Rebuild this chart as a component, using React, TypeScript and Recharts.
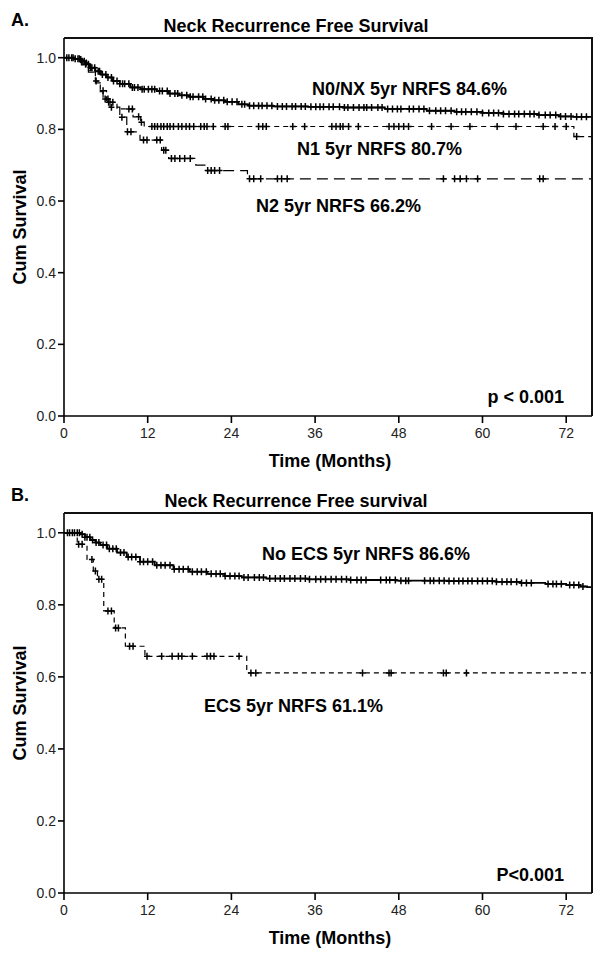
import { ComposedChart, Line, Scatter, XAxis, YAxis } from "recharts"

const FONT = "Arial, 'Liberation Sans', sans-serif"

const MONTH_TICKS = [0, 12, 24, 36, 48, 60, 72]
const SURV_TICKS = [0, 0.2, 0.4, 0.6, 0.8, 1.0]
const X_MAX = 75.7
const Y_MAX = 1.055

// ---- Panel A: N stage ----
const n0Times = [0, 1.5, 2.3, 3.0, 3.7, 4.5, 5.3, 6.1, 7.0, 8.0, 9.5, 11.0, 13.3, 15.0, 16.5, 18.0, 20.0, 21.5, 23.0, 25.0, 26.5, 30.0, 35.0, 40.0, 46.0, 52.0, 56.0, 60.0, 63.0, 68.0, 71.0, 73.0, 75.7]
const n0Surv = [1.0, 0.997, 0.99, 0.982, 0.972, 0.962, 0.953, 0.945, 0.935, 0.927, 0.917, 0.912, 0.907, 0.9, 0.895, 0.891, 0.885, 0.881, 0.877, 0.87, 0.866, 0.864, 0.863, 0.861, 0.857, 0.852, 0.849, 0.846, 0.843, 0.84, 0.836, 0.835, 0.835]
const n0Censor = [0.4, 0.7, 1.1, 1.3, 1.6, 2.0, 2.2, 2.6, 2.9, 3.1, 3.5, 3.8, 4.0, 4.4, 4.9, 5.1, 5.5, 6.0, 6.3, 6.8, 7.1, 7.6, 8.0, 8.4, 8.7, 9.3, 9.8, 10.1, 10.6, 11.2, 11.5, 12.1, 12.6, 13.0, 13.7, 14.1, 14.8, 15.2, 15.9, 16.3, 16.9, 17.6, 18.1, 18.5, 19.3, 19.9, 20.3, 21.1, 21.6, 22.2, 22.9, 23.4, 24.1, 24.8, 25.5, 25.9, 26.6, 27.2, 27.9, 28.4, 29.1, 29.8, 30.6, 31.3, 31.9, 32.7, 33.2, 34.0, 34.6, 35.4, 36.1, 36.7, 37.2, 38.0, 38.6, 39.5, 40.2, 40.7, 41.5, 42.3, 43.0, 43.4, 44.1, 45.0, 45.6, 46.4, 47.1, 47.8, 48.3, 49.5, 50.1, 50.9, 51.6, 52.4, 53.3, 54.0, 54.7, 55.5, 56.3, 57.0, 57.6, 58.4, 59.2, 60.0, 60.9, 61.6, 62.3, 63.0, 63.8, 64.6, 65.2, 66.0, 66.8, 67.4, 68.1, 69.0, 69.7, 70.5, 71.2, 71.9, 72.7, 73.5, 74.2, 74.9]

const n1Times = [0, 1.5, 2.5, 3.5, 4.5, 5.2, 6.1, 7.6, 9.9, 11.0, 11.5, 73.1, 75.7]
const n1Surv = [1.0, 0.995, 0.985, 0.965, 0.935, 0.908, 0.876, 0.857, 0.835, 0.82, 0.808, 0.78, 0.78]
const n1Censor = [2.4, 3.2, 4.6, 5.6, 6.4, 7.0, 9.3, 9.8, 10.7, 11.1, 12.6, 13.0, 13.4, 13.9, 14.3, 14.8, 15.2, 15.7, 16.4, 16.9, 17.5, 18.0, 18.6, 19.6, 20.1, 20.5, 21.4, 23.1, 23.5, 27.9, 28.5, 29.0, 32.8, 34.5, 38.4, 39.0, 39.6, 40.0, 40.8, 42.2, 46.6, 47.3, 48.0, 48.7, 49.4, 52.7, 55.5, 58.2, 62.1, 64.8, 68.7, 70.4, 72.0, 73.5]

const n2Times = [0, 1.5, 2.5, 3.5, 4.5, 5.2, 5.6, 6.6, 8.0, 9.0, 10.9, 14.0, 15.0, 18.9, 20.4, 26.3, 75.7]
const n2Surv = [1.0, 0.995, 0.98, 0.96, 0.93, 0.905, 0.885, 0.862, 0.834, 0.793, 0.77, 0.742, 0.719, 0.7, 0.685, 0.662, 0.662]
const n2Censor = [5.9, 6.3, 6.8, 8.3, 9.1, 9.6, 11.4, 11.9, 13.3, 13.8, 14.3, 14.6, 15.4, 15.9, 16.6, 17.3, 18.1, 20.6, 21.1, 21.6, 22.3, 26.6, 27.2, 28.2, 30.6, 31.2, 32.0, 54.4, 56.0, 56.8, 57.7, 59.3, 68.2, 68.7]

// ---- Panel B: extracapsular spread ----
const noEcsTimes = [0, 2.3, 3.0, 3.8, 4.5, 5.2, 6.2, 7.6, 9.0, 10.9, 13.0, 15.7, 18.0, 20.5, 23.0, 25.5, 29.0, 35.0, 41.0, 47.7, 55.0, 62.0, 65.4, 69.0, 72.0, 74.0, 75.0, 75.7]
const noEcsSurv = [1.0, 0.996, 0.988, 0.98, 0.973, 0.966, 0.956, 0.945, 0.933, 0.92, 0.91, 0.899, 0.892, 0.886, 0.88, 0.876, 0.873, 0.871, 0.869, 0.867, 0.866, 0.864, 0.861, 0.858, 0.855, 0.851, 0.849, 0.849]
const noEcsCensor = [0.5, 0.8, 1.2, 1.5, 1.9, 2.2, 2.6, 3.0, 3.3, 3.7, 4.1, 4.6, 5.0, 5.6, 6.1, 6.5, 7.0, 7.5, 8.1, 8.6, 9.2, 9.7, 10.3, 10.9, 11.4, 12.0, 12.7, 13.3, 13.9, 14.5, 15.2, 15.8, 16.5, 17.1, 17.8, 18.4, 19.1, 19.7, 20.4, 21.1, 21.8, 22.4, 23.1, 23.8, 24.5, 25.1, 25.8, 26.4, 27.3, 28.0, 28.6, 29.5, 30.3, 31.0, 31.6, 32.4, 33.1, 33.9, 34.6, 35.2, 36.1, 36.8, 37.5, 38.3, 39.0, 39.8, 40.5, 41.1, 42.0, 42.6, 43.3, 45.4, 46.2, 46.7, 47.5, 48.3, 49.0, 49.4, 51.7, 52.5, 53.0, 53.8, 54.5, 55.2, 55.9, 56.6, 57.2, 57.9, 58.5, 59.3, 60.0, 60.7, 61.4, 62.0, 62.8, 63.5, 64.1, 64.9, 65.6, 66.3, 67.0, 69.4, 70.1, 70.6, 71.3, 72.5, 73.1, 73.8, 74.4]

const ecsTimes = [0, 1.9, 3.3, 4.2, 4.8, 5.7, 7.2, 8.8, 11.6, 26.2, 75.7]
const ecsSurv = [1.0, 0.968, 0.926, 0.894, 0.871, 0.783, 0.736, 0.685, 0.657, 0.611, 0.611]
const ecsCensor = [2.1, 2.6, 4.0, 4.5, 5.0, 5.4, 6.3, 6.8, 7.4, 7.8, 9.4, 9.9, 11.9, 14.0, 15.5, 16.4, 16.9, 18.4, 20.5, 21.0, 21.5, 25.1, 26.8, 27.5, 42.8, 46.6, 46.9, 54.4, 54.8, 57.7]

type Pt = { t: number; s: number }

function toSteps(times: number[], surv: number[]): Pt[] {
  return times.map((t, i) => ({ t, s: surv[i] }))
}

// survival value of a step curve at time t (for placing censor ticks)
function survAt(steps: Pt[], t: number): number {
  let s = steps[0].s
  for (const p of steps) {
    if (p.t <= t) s = p.s
    else break
  }
  return s
}

interface Curve {
  name: string
  steps: Pt[]
  censor: number[]
  dash?: string
  width: number
}

interface Note {
  text: string
  x: number
  y: number
  anchor?: "left" | "right"
}

const Plus = (props: any) => {
  const { cx, cy } = props
  if (cx == null || cy == null) return null
  return (
    <path
      d={`M${cx - 3},${cy}h6M${cx},${cy - 3.5}v7`}
      stroke="#000"
      strokeWidth={1.5}
      fill="none"
    />
  )
}

const tickStyle = { fontSize: 14, fill: "#222", fontFamily: FONT }

function Panel({ top, boxTop, boxBottom, letter, title, curves, notes }: {
  top: number
  boxTop: number
  boxBottom: number
  letter: string
  title: string
  curves: Curve[]
  notes: Note[]
}) {
  const h = 480
  const xAxisH = 22
  const plotLeft = 64
  const plotRight = 592
  const bold = { position: "absolute" as const, fontFamily: FONT, fontWeight: 700, whiteSpace: "nowrap" as const, lineHeight: 1, color: "#000" }
  const midY = (boxTop + boxBottom) / 2

  return (
    <div style={{ position: "absolute", left: 0, top, width: 604, height: h }}>
      <ComposedChart
        width={604}
        height={h}
        margin={{ top: boxTop, right: 604 - plotRight, bottom: h - boxBottom - xAxisH, left: 0 }}
      >
        <XAxis
          dataKey="t"
          type="number"
          domain={[0, X_MAX]}
          ticks={MONTH_TICKS}
          allowDataOverflow
          height={xAxisH}
          stroke="#000"
          strokeWidth={1.6}
          tickSize={7}
          tickMargin={5}
          tick={tickStyle}
        />
        <YAxis
          type="number"
          domain={[0, Y_MAX]}
          ticks={SURV_TICKS}
          allowDataOverflow
          width={plotLeft}
          stroke="#000"
          strokeWidth={1.6}
          tickSize={6}
          tickMargin={2}
          tick={tickStyle}
          tickFormatter={(v: number) => v.toFixed(1)}
        />
        {curves.map((c) => (
          <Line
            key={c.name}
            data={c.steps}
            dataKey="s"
            type="stepAfter"
            stroke="#000"
            strokeWidth={c.width}
            strokeDasharray={c.dash}
            dot={false}
            activeDot={false}
            isAnimationActive={false}
          />
        ))}
        {curves.map((c) => (
          <Scatter
            key={c.name + "-censor"}
            data={c.censor.map((t) => ({ t, s: survAt(c.steps, t) }))}
            dataKey="s"
            shape={Plus}
            isAnimationActive={false}
          />
        ))}
      </ComposedChart>

      {/* plot frame: top and right edges */}
      <div style={{ position: "absolute", left: plotLeft, top: boxTop - 1, width: plotRight - plotLeft + 1, height: 2, background: "#111", zIndex: 5 }} />
      <div style={{ position: "absolute", left: plotRight - 1, top: boxTop, width: 2, height: boxBottom - boxTop, background: "#111", zIndex: 5 }} />

      <div style={{ ...bold, left: 11, top: boxTop - 18, fontSize: 18, transform: "translateY(-50%)" }}>{letter}</div>
      <div style={{ ...bold, left: 296, top: boxTop - 12.5, fontSize: 18, transform: "translate(-50%,-50%)" }}>{title}</div>
      <div style={{ ...bold, left: 20, top: midY, fontSize: 18, transform: "translate(-50%,-50%) rotate(-90deg)" }}>Cum Survival</div>
      <div style={{ ...bold, left: 330, top: boxBottom + 45, fontSize: 18, transform: "translate(-50%,-50%)" }}>Time (Months)</div>
      {notes.map((n) => (
        <div
          key={n.text}
          style={{
            ...bold,
            left: n.x,
            top: n.y,
            fontSize: 18,
            transform: n.anchor === "right" ? "translate(-100%,-50%)" : "translateY(-50%)",
          }}
        >
          {n.text}
        </div>
      ))}
    </div>
  )
}

export default function App() {
  const n0 = toSteps(n0Times, n0Surv)
  const n1 = toSteps(n1Times, n1Surv)
  const n2 = toSteps(n2Times, n2Surv)
  const noEcs = toSteps(noEcsTimes, noEcsSurv)
  const ecs = toSteps(ecsTimes, ecsSurv)

  return (
    <div style={{ position: "absolute", left: 0, top: 0, width: 604, height: 960, background: "#fff" }}>
      <Panel
        top={0}
        boxTop={38}
        boxBottom={416}
        letter="A."
        title="Neck Recurrence Free Survival"
        curves={[
          { name: "N2", steps: n2, censor: n2Censor, dash: "11 6", width: 1.2 },
          { name: "N1", steps: n1, censor: n1Censor, dash: "5 4", width: 1.2 },
          { name: "N0/NX", steps: n0, censor: n0Censor, width: 1.8 },
        ]}
        notes={[
          { text: "N0/NX 5yr NRFS 84.6%", x: 312, y: 89 },
          { text: "N1 5yr NRFS 80.7%", x: 297, y: 149 },
          { text: "N2 5yr NRFS 66.2%", x: 256, y: 206 },
          { text: "p < 0.001", x: 564, y: 397, anchor: "right" },
        ]}
      />
      <Panel
        top={480}
        boxTop={33}
        boxBottom={413}
        letter="B."
        title="Neck Recurrence Free survival"
        curves={[
          { name: "ECS", steps: ecs, censor: ecsCensor, dash: "5 4", width: 1.2 },
          { name: "No ECS", steps: noEcs, censor: noEcsCensor, width: 1.8 },
        ]}
        notes={[
          { text: "No ECS 5yr NRFS 86.6%", x: 262, y: 74 },
          { text: "ECS 5yr NRFS 61.1%", x: 204, y: 226 },
          { text: "P<0.001", x: 564, y: 395, anchor: "right" },
        ]}
      />
    </div>
  )
}
